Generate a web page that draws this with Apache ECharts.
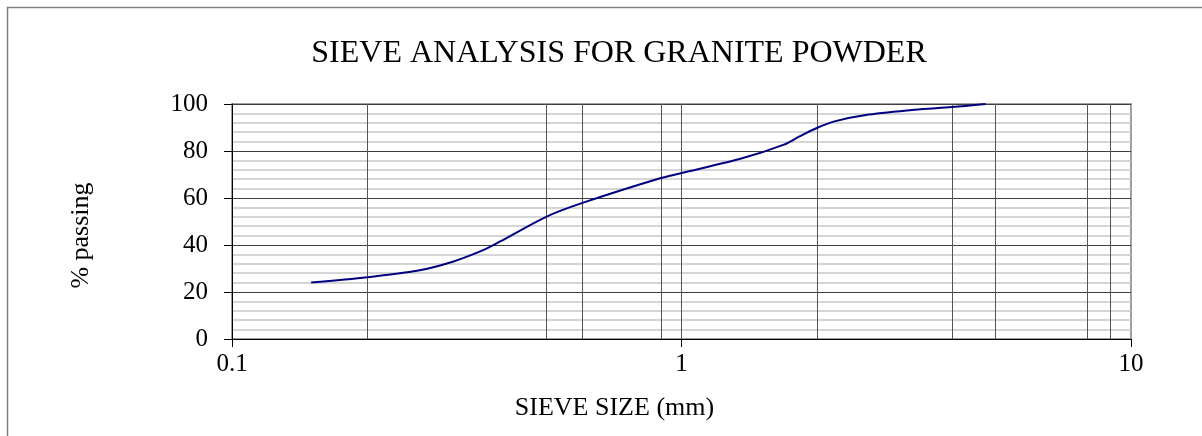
<!DOCTYPE html>
<html>
<head>
<meta charset="utf-8">
<script src="https://cdn.jsdelivr.net/npm/echarts@6/dist/echarts.min.js"></script>
<style>html,body{margin:0;padding:0;background:#fff;}#c{width:1202px;height:436px;}</style>
</head>
<body>
<div id="c"></div>
<script>
// Sieve size (mm) and % passing
const sieveSize = [0.15, 0.2, 0.258, 0.311, 0.363, 0.395, 0.5, 0.6, 0.9, 1, 1.37, 1.69, 1.83, 2, 2.19, 2.61, 3.3, 4, 4.75];
const percentPassing = [24, 26.3, 29, 33, 37.9, 41.5, 52, 57.8, 68.5, 70.6, 77, 82.7, 86.2, 89.8, 92.6, 95.5, 97.6, 98.7, 100];
const verticalGrid = [0.2, 0.5, 0.6, 0.9, 1, 2, 4, 5, 8, 9];
const yTicks = [0, 20, 40, 60, 80, 100];

const chart = echarts.init(document.getElementById('c'));
const font = '"Liberation Serif", "Times New Roman", serif';
chart.setOption({
  animation: false,
  backgroundColor: '#fff',
  title: {
    text: 'SIEVE ANALYSIS FOR GRANITE POWDER',
    left: 614, top: 33, textAlign: 'center',
    textStyle: { fontFamily: font, fontSize: 32, fontWeight: 'normal', color: '#000' }
  },
  graphic: [{
    type: 'rect', shape: { x: 7.5, y: 7.5, width: 1400, height: 600 },
    style: { fill: null, stroke: '#808080', lineWidth: 1.5 }, z: 100, silent: true
  }],
  grid: { left: 232, right: 71, top: 104, bottom: 97, show: true, borderColor: '#808080', borderWidth: 1.5 },
  xAxis: {
    type: 'log', logBase: 10, min: 0.1, max: 10,
    name: 'SIEVE SIZE (mm)', nameLocation: 'middle', nameGap: 56,
    nameTextStyle: { fontFamily: font, fontSize: 26, color: '#000', padding: [0, 134, 0, 0] },
    axisLine: { show: true, lineStyle: { color: '#000', width: 1 } },
    axisTick: { show: true, length: 8, lineStyle: { color: '#000' } },
    axisLabel: { fontFamily: font, fontSize: 25, color: '#000', margin: 13,
      formatter: v => (Math.abs(v - 0.1) < 1e-9 ? '0.1' : String(Math.round(v))) },
    splitLine: { show: false }, minorTick: { show: false }
  },
  yAxis: {
    type: 'value', min: 0, max: 100, interval: 20,
    name: '% passing', nameLocation: 'middle', nameGap: 138, nameRotate: 90,
    nameTextStyle: { fontFamily: font, fontSize: 26, color: '#000', padding: [0, 28, 0, 0] },
    axisLine: { show: true, lineStyle: { color: '#000', width: 1 } },
    axisTick: { show: true, length: 8, lineStyle: { color: '#000' } },
    axisLabel: { fontFamily: font, fontSize: 25, color: '#000', margin: 24,
      formatter: v => yTicks.includes(v) ? String(v) : '' },
    splitLine: { show: true, lineStyle: { color: '#404040', width: 1 } },
    minorTick: { show: false, splitNumber: 5 },
    minorSplitLine: { show: true, lineStyle: { color: '#c8c8c8', width: 1.5 } }
  },
  series: [{
    type: 'line',
    data: sieveSize.map((x, i) => [x, percentPassing[i]]),
    smooth: 0.3, showSymbol: false,
    lineStyle: { color: '#000080', width: 2 },
    itemStyle: { color: '#000080' },
    markLine: {
      silent: true, symbol: ['none', 'none'], label: { show: false },
      lineStyle: { color: '#555', width: 1, type: 'solid' },
      data: verticalGrid.map(v => ({ xAxis: v }))
    },
    z: 5
  }]
});
</script>
</body>
</html>
